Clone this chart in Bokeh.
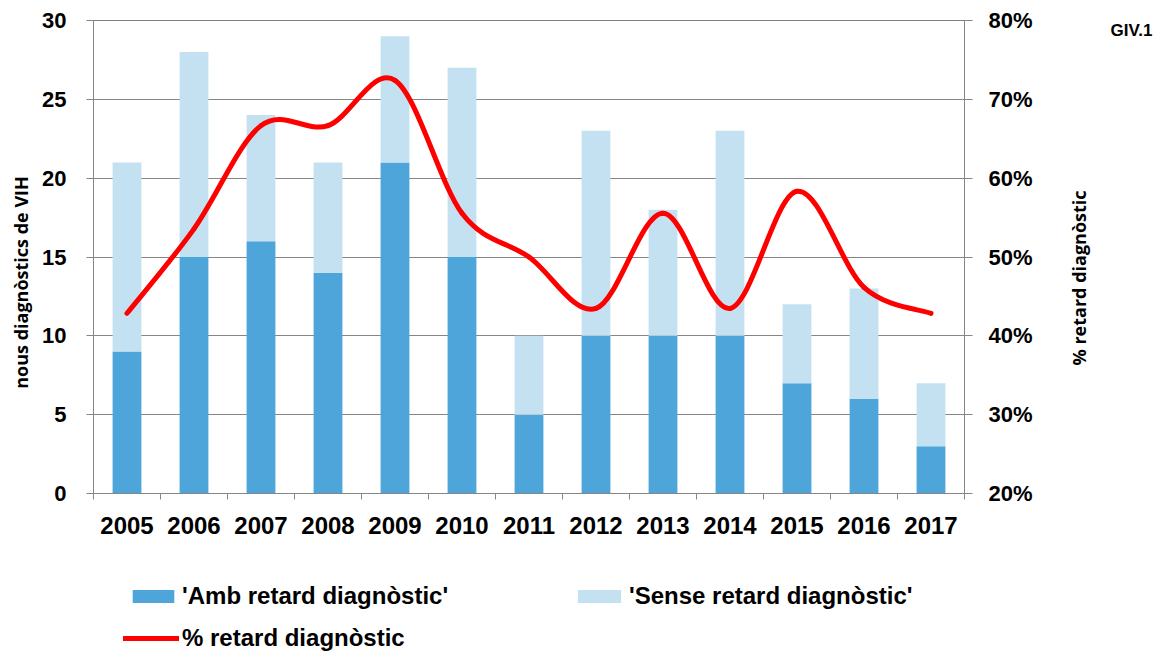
import numpy as np
from bokeh.plotting import figure
from bokeh.layouts import column
from bokeh.models import (Range1d, LinearAxis, FixedTicker, PrintfTickFormatter,
                          Legend, LegendItem, Span)
from bokeh.embed import file_html
from bokeh.resources import INLINE

# ---- data ----
years = ["2005", "2006", "2007", "2008", "2009", "2010", "2011",
         "2012", "2013", "2014", "2015", "2016", "2017"]
amb_retard = [9, 15, 16, 14, 21, 15, 5, 10, 10, 10, 7, 6, 3]
sense_retard = [12, 13, 8, 7, 8, 12, 5, 13, 8, 13, 5, 7, 4]
left_ticks = [0, 5, 10, 15, 20, 25, 30]
right_ticks = [20, 30, 40, 50, 60, 70, 80]
left_title = "nous diagnòstics de VIH"
right_title = "% retard diagnòstic"
tag_text = "GIV.1"
legend_labels = ["'Amb retard diagnòstic'", "'Sense retard diagnòstic'", "% retard diagnòstic"]

xs = list(range(len(years)))
totals = [a + s for a, s in zip(amb_retard, sense_retard)]
pct = [100.0 * a / t for a, t in zip(amb_retard, totals)]

DARK = "#4EA5D9"
LIGHT = "#C4E1F2"
RED = "#FF0000"
GRAY = "#868686"
TICK_FONT = "Liberation Sans"
TITLE_FONT = "Open Sans"

W = 1160
FRAME_L, FRAME_R = 93, 964
p = figure(width=W, height=545, output_backend="svg", toolbar_location=None,
           x_range=Range1d(-0.5, len(years) - 0.5), y_range=Range1d(0, 30),
           min_border_left=FRAME_L, min_border_right=W - FRAME_R, min_border_top=20,
           min_border_bottom=52)
p.extra_y_ranges = {"pct": Range1d(20, 80), "pos": Range1d(0, 473)}
p.outline_line_color = None

r_amb = p.vbar(x=xs, bottom=0, top=amb_retard, width=0.43,
               fill_color=DARK, line_color=None)
r_sense = p.vbar(x=xs, bottom=amb_retard, top=totals, width=0.43,
                 fill_color=LIGHT, line_color=None)

# smooth (Excel-like) line through the percentage points
n = len(pct)
bx0, by0, bx1, by1, bcx0, bcy0, bcx1, bcy1 = [], [], [], [], [], [], [], []
for i in range(n - 1):
    pm_x, pm_y = (xs[i - 1], pct[i - 1]) if i > 0 else (xs[i], pct[i])
    pp_x, pp_y = (xs[i + 2], pct[i + 2]) if i + 2 < n else (xs[i + 1], pct[i + 1])
    bx0.append(xs[i]); by0.append(pct[i])
    bx1.append(xs[i + 1]); by1.append(pct[i + 1])
    bcx0.append(xs[i] + (xs[i + 1] - pm_x) / 6.0)
    bcy0.append(pct[i] + (pct[i + 1] - pm_y) / 6.0)
    bcx1.append(xs[i + 1] - (pp_x - xs[i]) / 6.0)
    bcy1.append(pct[i + 1] - (pp_y - pct[i]) / 6.0)
p.bezier(x0=bx0, y0=by0, x1=bx1, y1=by1, cx0=bcx0, cy0=bcy0, cx1=bcx1, cy1=bcy1,
         line_color=RED, line_width=5, line_cap="round", y_range_name="pct")

# top border line
p.add_layout(Span(location=30, dimension="width", line_color="black", line_width=1))

# grid
p.xgrid.visible = False
p.ygrid.ticker = FixedTicker(ticks=left_ticks)
p.ygrid.grid_line_color = GRAY
p.ygrid.grid_line_width = 1


def style_labels(ax, size):
    ax.major_label_text_font = TICK_FONT
    ax.major_label_text_font_style = "bold"
    ax.major_label_text_font_size = size
    ax.major_label_text_color = "black"


# x axis
xa = p.xaxis[0]
xa.ticker = FixedTicker(ticks=xs, minor_ticks=[i - 0.5 for i in range(len(years) + 1)])
xa.major_label_overrides = {i: y for i, y in enumerate(years)}
xa.major_tick_line_color = None
xa.minor_tick_line_color = GRAY
xa.minor_tick_out = 6
xa.minor_tick_in = 0
xa.axis_line_color = GRAY
style_labels(xa, "24px")
xa.major_label_standoff = 17

# left axis
ya = p.yaxis[0]
ya.ticker = FixedTicker(ticks=left_ticks)
ya.minor_tick_line_color = None
ya.major_tick_line_color = GRAY
ya.major_tick_out = 7
ya.major_tick_in = 0
ya.axis_line_color = GRAY
style_labels(ya, "22px")
ya.major_label_standoff = 20

# right axis
ra = LinearAxis(y_range_name="pct", ticker=FixedTicker(ticks=right_ticks),
                formatter=PrintfTickFormatter(format="%d%%"))
ra.minor_tick_line_color = None
ra.major_tick_line_color = GRAY
ra.major_tick_out = 8
ra.major_tick_in = 0
ra.axis_line_color = GRAY
style_labels(ra, "22px")
ra.major_label_standoff = 16
p.add_layout(ra, "right")


def text_axis(text, pos, standoff, font, size, orientation):
    ax = LinearAxis(y_range_name="pos", ticker=FixedTicker(ticks=[pos]),
                    major_label_overrides={pos: text})
    ax.axis_line_color = None
    ax.major_tick_line_color = None
    ax.minor_tick_line_color = None
    ax.major_tick_out = 0
    ax.major_tick_in = 0
    ax.minor_tick_out = 0
    ax.major_label_standoff = standoff
    ax.major_label_text_font = font
    ax.major_label_text_font_style = "bold"
    ax.major_label_text_font_size = size
    ax.major_label_text_color = "black"
    if orientation is not None:
        ax.major_label_orientation = orientation
    return ax


p.add_layout(text_axis(left_title, 211, 7, TITLE_FONT, "18px", "vertical"), "left")
p.add_layout(text_axis(right_title, 128, 43, TITLE_FONT, "18px", float(np.pi / 2)), "right")
p.add_layout(text_axis(tag_text, 463, 5, TICK_FONT, "17px", None), "right")

# ---- legend strip ----
lf = figure(width=W, height=107, output_backend="svg", toolbar_location=None,
            x_range=Range1d(0, 1), y_range=Range1d(0, 1),
            x_axis_type=None, y_axis_type=None,
            min_border_left=FRAME_L, min_border_right=W - FRAME_R,
            min_border_top=0, min_border_bottom=0)
lf.outline_line_color = None
lf.xgrid.visible = False
lf.ygrid.visible = False
# zero-size placeholders that only serve the legend swatches
l_amb = lf.vbar(x=[0.5], top=[0.5], bottom=[0.5], width=0, fill_color=DARK, line_color=None)
l_sense = lf.vbar(x=[0.5], top=[0.5], bottom=[0.5], width=0, fill_color=LIGHT, line_color=None)
l_line = lf.line(x=[5, 6], y=[5, 5], line_color=RED, line_width=5, line_cap="round")


def add_legend(label, renderer, loc, gw):
    lg = Legend(items=[LegendItem(label=label, renderers=[renderer], index=0)],
                location=loc, orientation="horizontal",
                glyph_width=gw, glyph_height=16, label_standoff=3,
                padding=0, margin=0, spacing=0,
                border_line_color=None, background_fill_alpha=0,
                label_text_font=TICK_FONT, label_text_font_style="bold",
                label_text_font_size="24px", label_text_color="black")
    lf.add_layout(lg)


add_legend(legend_labels[0], l_amb, (127 - FRAME_L, 42), 52)
add_legend(legend_labels[1], l_sense, (572 - FRAME_L, 42), 54)
add_legend(legend_labels[2], l_line, (123 - FRAME_L, 0), 56)

layout = column(p, lf, spacing=0)
open("out.html", "w").write(file_html(layout, INLINE))
